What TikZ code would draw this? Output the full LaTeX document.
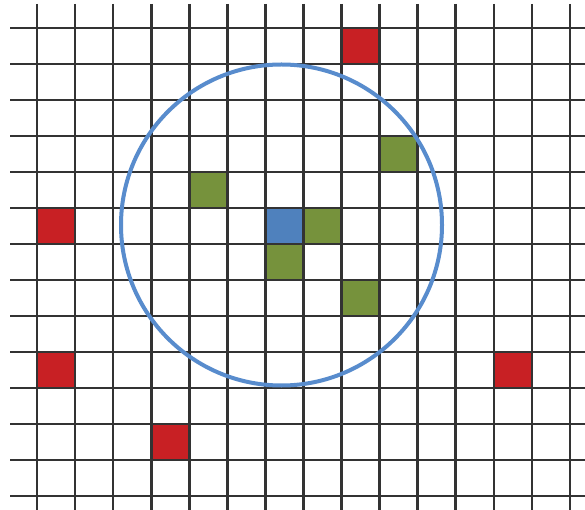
\documentclass[tikz,border=0pt]{standalone}
\definecolor{cellred}{RGB}{200,32,36}
\definecolor{cellgreen}{RGB}{118,146,60}
\definecolor{cellblue}{RGB}{79,129,189}
\definecolor{ringblue}{RGB}{88,140,205}
\tikzset{
  gridline/.style={line width=2.6pt, black!80},
  ring/.style={line width=4pt, ringblue}
}
\begin{document}
\begin{tikzpicture}[x=1pt, y=-1pt]
  \useasboundingbox[fill=white] (0,0) rectangle (585,510);
  % coloured cells: column/row
  \foreach \c/\r in {8/0, 0/5, 0/9, 3/11, 12/9}
    \fill[cellred] (37+38.07*\c,28+36*\r) rectangle ++(38.07,36);
  \foreach \c/\r in {4/4, 9/3, 7/5, 6/6, 8/7}
    \fill[cellgreen] (37+38.07*\c,28+36*\r) rectangle ++(38.07,36);
  \fill[cellblue] (37+38.07*6,28+36*5) rectangle ++(38.07,36);
  % grid
  \foreach \i in {0,...,14}
    \draw[gridline] (37+38.07*\i,4) -- (37+38.07*\i,510);
  \foreach \j in {0,...,13}
    \draw[gridline] (10,28+36*\j) -- (585,28+36*\j);
  % neighbourhood
  \coordinate (centre) at (281.5,225);
  \draw[ring] (centre) circle [radius=160.5pt];
\end{tikzpicture}
\end{document}
